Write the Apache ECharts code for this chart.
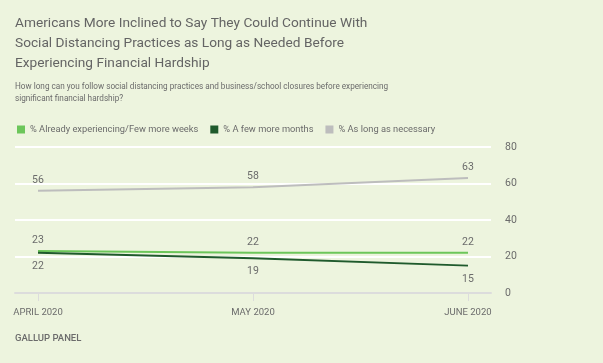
<!DOCTYPE html>
<html><head><meta charset="utf-8">
<script src="https://cdn.jsdelivr.net/npm/echarts@6/dist/echarts.min.js"></script>
<style>html,body{margin:0;padding:0;background:#edf4de;}#c{width:603px;height:363px;}</style>
</head><body><div id="c"></div>
<script>
var categories = ['APRIL 2020', 'MAY 2020', 'JUNE 2020'];
var seriesNames = ['% Already experiencing/Few more weeks', '% A few more months', '% As long as necessary'];
var alreadyFew = [23, 22, 22];
var fewMonths = [22, 19, 15];
var asLong = [56, 58, 63];
var yTicks = [0, 20, 40, 60, 80];

var FONT = 'Roboto';
var chart = echarts.init(document.getElementById('c'));
function pts(arr){ return arr.map(function(v,i){ return [i, v]; }); }
function mk(name, arr, color, pos, dist){
  return {
    name: name, type: 'line', data: pts(arr), symbol: 'circle', symbolSize: 0.01, showSymbol: true,
    lineStyle: {color: color, width: 2}, itemStyle: {color: color},
    label: {show: true, position: pos, distance: dist, color: '#6b6b6b', fontSize: 10.5, fontFamily: FONT,
      formatter: function(p){ return p.value[1]; }},
    emphasis: {disabled: true}
  };
}
chart.setOption({
  backgroundColor: '#edf4de',
  animation: false,
  textStyle: {fontFamily: FONT},
  title: [
    {text: 'Americans More Inclined to Say They Could Continue With\nSocial Distancing Practices as Long as Needed Before\nExperiencing Financial Hardship',
     left: 15, top: 14, padding: 0, textStyle: {fontSize: 13.7, fontWeight: 'normal', color: '#646464', lineHeight: 20, fontFamily: FONT}},
    {text: 'How long can you follow social distancing practices and business/school closures before experiencing\nsignificant financial hardship?',
     left: 15, top: 81, padding: 0, textStyle: {fontSize: 8.2, fontWeight: 'normal', color: '#6b6b6b', lineHeight: 12, fontFamily: FONT}},
    {text: 'GALLUP PANEL',
     left: 15, top: 334, padding: 0, textStyle: {fontSize: 9.5, fontWeight: 500, color: '#6b6b6b', fontFamily: FONT}}
  ],
  legend: {
    left: 12, top: 120, itemWidth: 8, itemHeight: 8, itemGap: 12, icon: 'rect',
    textStyle: {color: '#6b6b6b', fontSize: 9.3, fontFamily: FONT},
    data: seriesNames
  },
  grid: {left: 15, right: 112, top: 147, bottom: 70},
  xAxis: {
    type: 'value', min: -0.107, max: 2.107,
    axisLine: {show: true, lineStyle: {color: '#dcdcdc', width: 2}},
    axisTick: {show: true, customValues: [0,1,2], length: 8, lineStyle: {color: '#dcdcdc', width: 1}},
    axisLabel: {customValues: [0,1,2], color: '#6b6b6b', fontSize: 9.5, fontFamily: FONT, margin: 15,
      formatter: function(v){ return categories[Math.round(v)]; }},
    splitLine: {show: false}
  },
  yAxis: {
    type: 'value', position: 'right', min: yTicks[0], max: yTicks[yTicks.length-1], interval: 20,
    axisLine: {show: false}, axisTick: {show: false},
    axisLabel: {color: '#6b6b6b', fontSize: 10.5, fontFamily: FONT, margin: 14},
    splitLine: {lineStyle: {color: '#ffffff', width: 2}}
  },
  series: [
    mk(seriesNames[2], asLong, '#bdbdbd', 'top', 5),
    mk(seriesNames[0], alreadyFew, '#6cc65a', 'top', 5),
    mk(seriesNames[1], fewMonths, '#1f5a2c', 'bottom', 8)
  ]
});
</script></body></html>
